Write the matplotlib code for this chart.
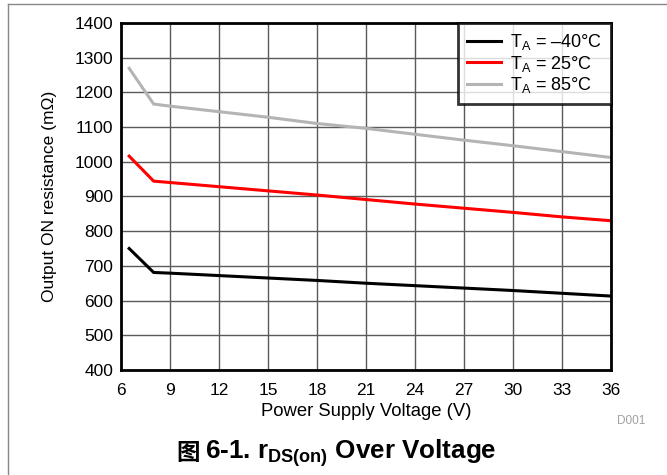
import matplotlib
matplotlib.use("Agg")
import matplotlib.pyplot as plt
from matplotlib.lines import Line2D

plt.rcParams['font.family'] = ['Liberation Sans', 'Noto Sans CJK SC', 'DejaVu Sans']
plt.rcParams['mathtext.fontset'] = 'custom'
plt.rcParams['mathtext.rm'] = 'Liberation Sans'
plt.rcParams['mathtext.bf'] = 'Liberation Sans:bold'
plt.rcParams['mathtext.it'] = 'Liberation Sans:italic'

voltage = [6.5, 8, 9, 12, 15, 18, 21, 24, 27, 30, 33, 36]
r_m40 = [750, 681, 679, 672, 665, 658, 650, 643, 636, 629, 621, 613]
r_25 = [1016, 944, 940, 928, 916, 904, 891, 878, 866, 854, 841, 830]
r_85 = [1269, 1166, 1160, 1144, 1128, 1110, 1096, 1079, 1062, 1046, 1029, 1012]
labels = [r'T$_\mathregular{A}$ = –40°C', r'T$_\mathregular{A}$ = 25°C', r'T$_\mathregular{A}$ = 85°C']
colors = ['#000000', '#ff0000', '#b4b4b4']
x_ticks = list(range(6, 37, 3))
y_ticks = list(range(400, 1401, 100))

fig = plt.figure(figsize=(6.67, 4.75), dpi=100)
ax = fig.add_axes([0.1814, 0.221, 0.7346, 0.731])

for ys, c, lab in zip([r_m40, r_25, r_85], colors, labels):
    ax.plot(voltage, ys, color=c, lw=2.2, label=lab, solid_joinstyle='miter')

ax.set_xlim(6, 36)
ax.set_ylim(400, 1400)
ax.set_xticks(x_ticks)
ax.set_yticks(y_ticks)
ax.tick_params(length=0, labelsize=12.5)
ax.tick_params(axis='x', pad=9)
ax.tick_params(axis='y', pad=5.5)
ax.grid(True, color='#5a5a5a', lw=1)
ax.set_axisbelow(True)
for s in ax.spines.values():
    s.set_linewidth(2)
ax.set_xlabel('Power Supply Voltage (V)', fontsize=13.3, labelpad=4)
ax.set_ylabel('Output ON resistance (mΩ)', fontsize=12.5, labelpad=13)

leg = ax.legend(loc='upper right', fontsize=13, frameon=True, fancybox=False,
                borderaxespad=0, handlelength=1.9, handletextpad=0.5,
                labelspacing=0.1, borderpad=0.5)
leg.get_frame().set_edgecolor('black')
leg.get_frame().set_linewidth(2)

fig.text(0.967, 0.113, 'D001', fontsize=8.5, color='#a0a0a0', ha='right', va='center')
fig.text(200 / 667, 0.046, '图', fontsize=17, fontweight='bold', ha='right', va='center',
         family=['Noto Sans CJK SC'])
fig.text(205 / 667, 0.046, r'6-1. r$_\mathbf{DS(on)}$ Over Voltage', fontsize=18.7,
         fontweight='bold', ha='left', va='center')

fig.add_artist(Line2D([0.012, 0.012], [0, 0.992], transform=fig.transFigure, color='#888888', lw=1))
fig.add_artist(Line2D([0.012, 1.0], [0.992, 0.992], transform=fig.transFigure, color='#888888', lw=1))

fig.savefig('out.png', dpi=100)
